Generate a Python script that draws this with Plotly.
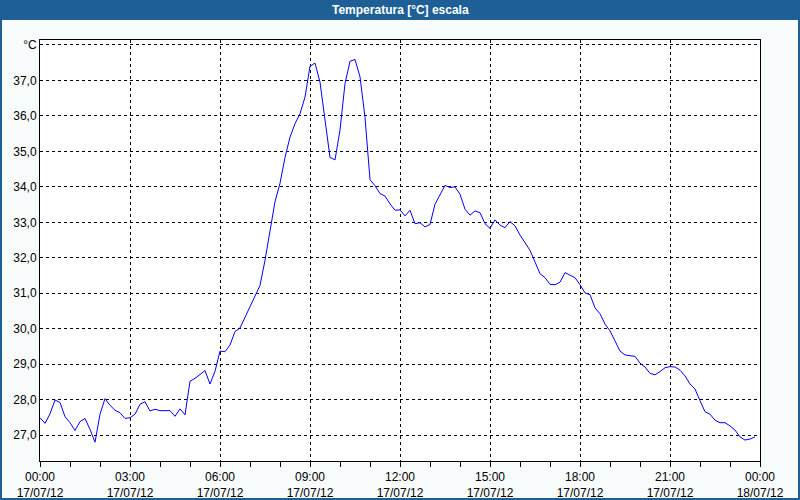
import plotly.graph_objects as go
import pandas as pd

# 10-minute readings, 17/07/12 00:00 .. 23:50
temperature = [
    27.49, 27.33, 27.60, 27.99, 27.92, 27.52, 27.35, 27.13, 27.38, 27.47,
    27.16, 26.80, 27.59, 28.03, 27.84, 27.70, 27.63, 27.47, 27.49, 27.59,
    27.87, 27.94, 27.68, 27.73, 27.69, 27.69, 27.69, 27.53, 27.74, 27.57,
    28.52, 28.60, 28.72, 28.82, 28.44, 28.80, 29.37, 29.35, 29.54, 29.92,
    30.02, 30.32, 30.60, 30.89, 31.22, 31.93, 32.78, 33.58, 34.10, 34.83,
    35.40, 35.78, 36.06, 36.53, 37.40, 37.49, 36.95, 35.96, 34.83, 34.76,
    35.60, 36.91, 37.54, 37.59, 37.10, 35.96, 34.20, 34.03, 33.81, 33.74,
    33.52, 33.34, 33.35, 33.18, 33.34, 32.96, 32.99, 32.87, 32.94, 33.51,
    33.79, 34.04, 33.98, 34.00, 33.79, 33.37, 33.20, 33.32, 33.27, 32.96,
    32.83, 33.07, 32.92, 32.85, 33.02, 32.90, 32.64, 32.44, 32.21, 31.88,
    31.55, 31.44, 31.25, 31.24, 31.31, 31.58, 31.50, 31.44, 31.24, 31.01,
    30.96, 30.59, 30.42, 30.13, 29.94, 29.66, 29.37, 29.26, 29.24, 29.22,
    29.03, 28.92, 28.74, 28.70, 28.79, 28.90, 28.93, 28.92, 28.83, 28.67,
    28.44, 28.30, 27.97, 27.66, 27.59, 27.42, 27.35, 27.35, 27.26, 27.14,
    26.95, 26.86, 26.89, 26.95,
]
times = pd.date_range("2012-07-17 00:00", periods=len(temperature), freq="10min")

x_tick_vals = ["2012-07-17 00:00", "2012-07-17 03:00", "2012-07-17 06:00",
               "2012-07-17 09:00", "2012-07-17 12:00", "2012-07-17 15:00",
               "2012-07-17 18:00", "2012-07-17 21:00", "2012-07-18 00:00"]
x_tick_text = ["00:00<br>17/07/12", "03:00<br>17/07/12", "06:00<br>17/07/12",
               "09:00<br>17/07/12", "12:00<br>17/07/12", "15:00<br>17/07/12",
               "18:00<br>17/07/12", "21:00<br>17/07/12", "00:00<br>18/07/12"]
y_tick_vals = [27, 28, 29, 30, 31, 32, 33, 34, 35, 36, 37, 38]
y_tick_text = ["27,0", "28,0", "29,0", "30,0", "31,0", "32,0", "33,0",
               "34,0", "35,0", "36,0", "37,0", "°C"]

W, H = 800, 500
ML, MR, MT, MB = 40, 40, 40, 39
PW, PH = W - ML - MR, H - MT - MB

fig = go.Figure()
fig.add_trace(go.Scatter(x=times, y=temperature, mode="lines",
                         line=dict(color="#0000FF", width=1), hoverinfo="skip"))

font = dict(family="Liberation Sans, Arial, sans-serif", size=12, color="#000000")

fig.update_layout(
    width=W, height=H,
    margin=dict(l=ML, r=MR, t=MT, b=MB, pad=0, autoexpand=False),
    paper_bgcolor="#F8FBFB",
    plot_bgcolor="#FFFFFF",
    showlegend=False,
    font=font,
    xaxis=dict(
        type="date", automargin=False,
        range=["2012-07-17 00:00", "2012-07-18 00:00"],
        tickvals=x_tick_vals, ticktext=x_tick_text,
        ticks="outside", ticklen=5, tickcolor="black", tickwidth=1,
        showgrid=True, gridcolor="black", gridwidth=1, griddash="3px,3px",
        showline=True, linecolor="black", linewidth=1, mirror=True,
        zeroline=False,
        minor=dict(ticks="outside", ticklen=5, tickcolor="black",
                   dtick=3600000, tick0="2012-07-17 00:00", showgrid=False),
        tickfont=font,
    ),
    yaxis=dict(
        automargin=False,
        range=[26.27, 38.14],
        tickvals=y_tick_vals, ticktext=y_tick_text,
        ticks="", showgrid=True, gridcolor="black", gridwidth=1, griddash="3px,3px",
        showline=True, linecolor="black", linewidth=1, mirror=True,
        zeroline=False, tickfont=font,
    ),
)

# title bar
fig.add_shape(type="rect", xref="paper", yref="paper",
              x0=-ML / PW, x1=1 + MR / PW, y0=1 + (MT - 20) / PH, y1=1 + MT / PH,
              fillcolor="#1E6096", line=dict(width=0), layer="above")
fig.add_annotation(text="<b>Temperatura [°C] escala</b>", xref="paper", yref="paper",
                   x=0.5, y=1 + (MT - 10) / PH, showarrow=False,
                   xanchor="center", yanchor="middle",
                   font=dict(family="Liberation Sans, Arial, sans-serif", size=12, color="white"))
# window frame
fig.add_shape(type="rect", xref="paper", yref="paper",
              x0=-ML / PW + 1 / PW, x1=1 + MR / PW - 1 / PW,
              y0=-MB / PH + 1 / PH, y1=1 + MT / PH,
              line=dict(color="#1E6096", width=2), fillcolor="rgba(0,0,0,0)", layer="above")

fig.write_html("out.html", config={"displayModeBar": False, "staticPlot": True},
               post_script="document.body.style.margin='0';document.body.style.padding='0';")
